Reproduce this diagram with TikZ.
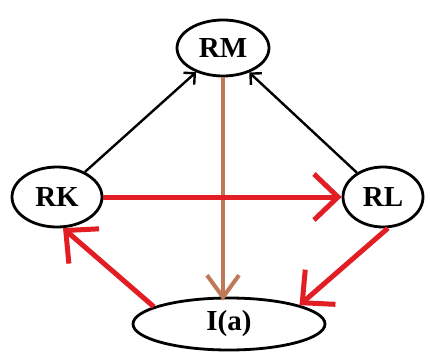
\documentclass[tikz,border=0pt]{standalone}
\usepackage{fontspec}
\setmainfont{Liberation Serif}
\usetikzlibrary{shapes.geometric,arrows.meta}
\definecolor{redarr}{RGB}{226,30,36}
\definecolor{brownarr}{RGB}{190,122,88}
\tikzset{
  ell/.style={ellipse, draw=black, line width=2.8pt, inner sep=0pt, fill=white,
    font=\fontsize{29}{29}\selectfont\bfseries},
  blk/.style={draw=black, line width=2.4pt, -{Straight Barb[length=8pt,width=16pt,line width=2.4pt]}},
  redline/.style={draw=redarr, line width=5pt, -{Straight Barb[length=24pt,width=46pt,line width=5pt]}},
  brownline/.style={draw=brownarr, line width=4pt, -{Straight Barb[length=22pt,width=32pt,line width=4pt]}}
}
\begin{document}
\begin{tikzpicture}[x=1pt,y=1pt]
\useasboundingbox[fill=white] (0,0) rectangle (430,354);
\node[ell, minimum width=92pt, minimum height=56pt] (RM) at (223,306) {RM};
\node[ell, minimum width=90pt, minimum height=60pt] (RK) at (57,157) {RK};
\node[ell, minimum width=80pt, minimum height=60pt] (RL) at (383,157) {RL};
\node[ell, minimum width=192pt, minimum height=52pt] (Ia) at (229,30) {I(a)};
\draw[blk] (RK) -- (RM);
\draw[blk] (RL) -- (RM);
\draw[brownline] (RM.south) -- ([yshift=-4pt]RM.south |- Ia.north);
\draw[redline] (RK.east) -- (RL.west);
\draw[redline] (Ia.167) -- (RK.-79);
\draw[redline] (RL.-81) -- (Ia.15);
\end{tikzpicture}
\end{document}
